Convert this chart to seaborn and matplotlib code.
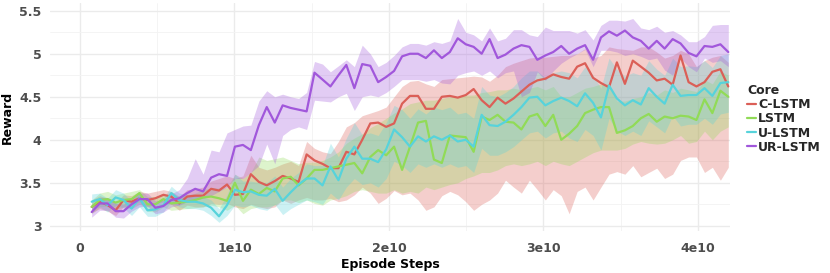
import numpy as np
import pandas as pd
import seaborn as sns
import matplotlib
matplotlib.use('Agg')
import matplotlib.pyplot as plt
from matplotlib.ticker import MultipleLocator, FuncFormatter

# episode steps (units of 1e8)
steps_e8 = [7.6, 12.8, 17.9, 23.1, 28.2, 33.4, 38.5, 43.7, 48.8, 54.0,
            59.1, 64.3, 69.4, 74.6, 79.7, 84.9, 90.0, 95.2, 100.3, 105.5,
            110.6, 115.8, 120.9, 126.1, 131.2, 136.4, 141.5, 146.7, 151.8, 157.0,
            162.1, 167.3, 172.4, 177.6, 182.7, 187.9, 193.0, 198.2, 203.3, 208.5,
            213.6, 218.8, 223.9, 229.1, 234.2, 239.4, 244.5, 249.7, 254.8, 260.0,
            265.1, 270.3, 275.4, 280.6, 285.7, 290.9, 296.0, 301.2, 306.3, 311.5,
            316.6, 321.8, 326.9, 332.1, 337.2, 342.4, 347.5, 352.7, 357.8, 363.0,
            368.1, 373.3, 378.4, 383.6, 388.7, 393.9, 399.0, 404.2, 409.3, 414.5,
            419.6]

cores = ['C-LSTM', 'LSTM', 'U-LSTM', 'UR-LSTM']

c_mean = [3.22, 3.28, 3.24, 3.18, 3.30, 3.28, 3.32, 3.30, 3.32, 3.36,
          3.34, 3.26, 3.34, 3.35, 3.35, 3.43, 3.41, 3.48, 3.36, 3.37,
          3.60, 3.51, 3.47, 3.52, 3.58, 3.55, 3.51, 3.83, 3.76, 3.72,
          3.67, 3.67, 3.86, 3.83, 4.00, 4.19, 4.20, 4.15, 4.19, 4.42,
          4.51, 4.51, 4.36, 4.36, 4.50, 4.51, 4.49, 4.52, 4.59, 4.46,
          4.38, 4.49, 4.42, 4.48, 4.56, 4.64, 4.69, 4.71, 4.76, 4.73,
          4.71, 4.85, 4.89, 4.72, 4.66, 4.61, 4.90, 4.65, 4.92, 4.85,
          4.78, 4.69, 4.71, 4.64, 4.98, 4.67, 4.62, 4.67, 4.79, 4.82,
          4.62]
c_lo = [3.15, 3.20, 3.17, 3.12, 3.22, 3.20, 3.25, 3.22, 3.25, 3.28,
        3.25, 3.18, 3.24, 3.22, 3.22, 3.26, 3.25, 3.26, 3.22, 3.20,
        3.25, 3.22, 3.20, 3.22, 3.30, 3.26, 3.30, 3.33, 3.30, 3.30,
        3.32, 3.28, 3.30, 3.36, 3.45, 3.38, 3.26, 3.32, 3.41, 3.36,
        3.38, 3.30, 3.18, 3.22, 3.35, 3.40, 3.36, 3.28, 3.18, 3.25,
        3.30, 3.38, 3.53, 3.45, 3.38, 3.53, 3.42, 3.30, 3.42, 3.35,
        3.14, 3.40, 3.45, 3.30, 3.45, 3.60, 3.63, 3.60, 3.70, 3.57,
        3.62, 3.67, 3.55, 3.60, 3.76, 3.80, 3.80, 3.62, 3.68, 3.53,
        3.68]
c_hi = [3.30, 3.35, 3.32, 3.27, 3.36, 3.35, 3.40, 3.38, 3.40, 3.42,
        3.40, 3.34, 3.42, 3.43, 3.45, 3.52, 3.55, 3.58, 3.55, 3.58,
        3.82, 3.68, 3.65, 3.68, 3.72, 3.75, 3.70, 3.98, 3.90, 3.86,
        3.84, 3.98, 4.15, 4.20, 4.28, 4.31, 4.34, 4.38, 4.50, 4.62,
        4.68, 4.69, 4.65, 4.62, 4.70, 4.71, 4.72, 4.73, 4.74, 4.73,
        4.68, 4.75, 4.85, 4.89, 4.92, 4.95, 4.96, 4.96, 4.97, 4.98,
        4.98, 5.00, 5.06, 4.95, 4.98, 5.08, 5.06, 5.05, 5.04, 5.08,
        5.08, 5.02, 4.95, 4.98, 5.04, 5.00, 4.85, 4.92, 4.96, 4.98,
        4.90]

l_mean = [3.22, 3.30, 3.31, 3.27, 3.30, 3.31, 3.38, 3.25, 3.25, 3.31,
          3.26, 3.27, 3.28, 3.30, 3.33, 3.34, 3.32, 3.29, 3.50, 3.29,
          3.42, 3.37, 3.44, 3.40, 3.55, 3.57, 3.47, 3.55, 3.65, 3.65,
          3.67, 3.69, 3.71, 3.73, 3.61, 3.80, 3.88, 3.82, 3.92, 3.65,
          3.92, 4.20, 4.22, 3.77, 3.73, 4.05, 4.04, 4.03, 3.86, 4.27,
          4.23, 4.29, 4.21, 4.20, 4.12, 4.27, 4.30, 4.16, 4.29, 4.00,
          4.07, 4.16, 4.31, 4.35, 4.38, 4.38, 4.08, 4.11, 4.16, 4.25,
          4.30, 4.21, 4.27, 4.25, 4.28, 4.27, 4.23, 4.47, 4.31, 4.57,
          4.50]
l_lo = [3.14, 3.22, 3.23, 3.19, 3.22, 3.23, 3.28, 3.17, 3.16, 3.22,
        3.18, 3.19, 3.20, 3.21, 3.22, 3.24, 3.22, 3.18, 3.24, 3.14,
        3.20, 3.22, 3.22, 3.24, 3.30, 3.30, 3.27, 3.30, 3.26, 3.24,
        3.30, 3.32, 3.35, 3.40, 3.42, 3.40, 3.38, 3.38, 3.42, 3.38,
        3.40, 3.38, 3.45, 3.42, 3.45, 3.48, 3.50, 3.55, 3.58, 3.62,
        3.62, 3.65, 3.70, 3.72, 3.70, 3.72, 3.75, 3.70, 3.75, 3.72,
        3.70, 3.75, 3.80, 3.85, 3.88, 3.88, 3.88, 3.90, 3.95, 3.98,
        3.96, 3.95, 3.96, 4.00, 4.05, 3.96, 3.98, 4.10, 4.00, 4.10,
        4.15]
l_hi = [3.30, 3.38, 3.40, 3.36, 3.38, 3.40, 3.42, 3.34, 3.34, 3.38,
        3.34, 3.35, 3.36, 3.38, 3.42, 3.44, 3.44, 3.44, 3.60, 3.55,
        3.62, 3.80, 3.76, 3.78, 3.80, 3.76, 3.72, 3.74, 3.74, 3.76,
        3.80, 3.86, 3.96, 4.02, 4.07, 4.14, 4.19, 4.25, 4.31, 4.36,
        4.42, 4.44, 4.46, 4.46, 4.48, 4.50, 4.50, 4.52, 4.52, 4.55,
        4.56, 4.58, 4.58, 4.60, 4.58, 4.60, 4.62, 4.58, 4.62, 4.50,
        4.50, 4.55, 4.60, 4.62, 4.65, 4.65, 4.45, 4.45, 4.48, 4.50,
        4.55, 4.52, 4.58, 4.55, 4.60, 4.58, 4.56, 4.70, 4.65, 4.80,
        4.75]

u_mean = [3.28, 3.31, 3.24, 3.33, 3.30, 3.20, 3.32, 3.18, 3.19, 3.24,
          3.38, 3.30, 3.28, 3.28, 3.26, 3.21, 3.11, 3.24, 3.42, 3.39,
          3.40, 3.36, 3.35, 3.43, 3.29, 3.39, 3.48, 3.55, 3.55, 3.47,
          3.69, 3.53, 3.78, 3.92, 3.78, 3.78, 3.74, 3.89, 4.12, 4.03,
          3.92, 4.04, 3.98, 4.04, 4.00, 4.05, 3.98, 4.00, 3.92, 4.29,
          4.17, 4.16, 4.21, 4.29, 4.38, 4.49, 4.50, 4.40, 4.45, 4.49,
          4.45, 4.39, 4.54, 4.43, 4.26, 4.63, 4.48, 4.40, 4.46, 4.41,
          4.60, 4.50, 4.42, 4.64, 4.51, 4.52, 4.52, 4.60, 4.51, 4.66,
          4.67]
u_lo = [3.20, 3.22, 3.16, 3.24, 3.21, 3.12, 3.22, 3.11, 3.11, 3.16,
        3.28, 3.22, 3.20, 3.20, 3.18, 3.12, 3.04, 3.12, 3.24, 3.22,
        3.24, 3.20, 3.18, 3.25, 3.13, 3.20, 3.25, 3.30, 3.28, 3.25,
        3.38, 3.30, 3.45, 3.55, 3.48, 3.50, 3.45, 3.55, 3.75, 3.70,
        3.62, 3.72, 3.68, 3.72, 3.68, 3.72, 3.68, 3.70, 3.62, 3.90,
        3.82, 3.82, 3.86, 3.92, 4.00, 4.08, 4.10, 4.02, 4.08, 4.10,
        4.02, 3.98, 4.12, 4.05, 3.88, 4.25, 4.10, 4.05, 4.10, 4.05,
        4.22, 4.15, 4.08, 4.28, 4.16, 4.18, 4.18, 4.25, 4.18, 4.30,
        4.32]
u_hi = [3.37, 3.38, 3.32, 3.42, 3.38, 3.28, 3.40, 3.26, 3.26, 3.32,
        3.46, 3.38, 3.36, 3.36, 3.34, 3.30, 3.20, 3.36, 3.60, 3.52,
        3.52, 3.50, 3.50, 3.58, 3.45, 3.55, 3.62, 3.72, 3.70, 3.70,
        3.96, 3.80, 4.02, 4.20, 4.06, 4.08, 4.05, 4.20, 4.40, 4.35,
        4.25, 4.36, 4.30, 4.38, 4.35, 4.38, 4.30, 4.32, 4.25, 4.62,
        4.52, 4.50, 4.55, 4.62, 4.72, 4.80, 4.80, 4.72, 4.78, 4.80,
        4.78, 4.72, 4.85, 4.75, 4.60, 4.95, 4.82, 4.74, 4.78, 4.75,
        4.92, 4.82, 4.75, 4.95, 4.85, 4.86, 4.85, 4.92, 4.84, 4.98,
        5.00]

ur_mean = [3.16, 3.26, 3.26, 3.17, 3.17, 3.25, 3.31, 3.31, 3.21, 3.23,
           3.30, 3.32, 3.38, 3.43, 3.40, 3.56, 3.60, 3.58, 3.92, 3.94,
           3.88, 4.17, 4.38, 4.20, 4.40, 4.37, 4.35, 4.33, 4.78, 4.70,
           4.62, 4.75, 4.87, 4.60, 4.88, 4.86, 4.67, 4.73, 4.80, 4.97,
           5.00, 5.00, 4.95, 5.04, 4.95, 5.02, 5.18, 5.11, 5.08, 5.00,
           5.17, 4.95, 4.99, 5.06, 5.10, 5.08, 4.93, 4.98, 5.02, 5.09,
           5.00, 5.06, 5.10, 4.93, 5.19, 5.26, 5.21, 5.27, 5.19, 5.15,
           5.06, 5.15, 5.06, 5.17, 5.12, 5.01, 4.97, 5.09, 5.08, 5.11,
           5.02]
ur_lo = [3.10, 3.18, 3.18, 3.10, 3.09, 3.17, 3.22, 3.23, 3.14, 3.16,
         3.22, 3.24, 3.28, 3.30, 3.32, 3.35, 3.40, 3.45, 3.55, 3.55,
         3.62, 3.70, 3.95, 3.72, 4.05, 4.12, 4.15, 4.12, 4.46, 4.45,
         4.44, 4.50, 4.54, 4.34, 4.50, 4.52, 4.50, 4.55, 4.62, 4.70,
         4.70, 4.70, 4.68, 4.70, 4.66, 4.65, 4.75, 4.78, 4.80, 4.75,
         4.80, 4.72, 4.78, 4.80, 4.50, 4.55, 4.79, 4.69, 4.80, 4.89,
         4.95, 5.00, 5.05, 4.85, 5.04, 5.04, 5.02, 4.98, 5.00, 4.97,
         4.93, 4.95, 4.81, 4.75, 4.95, 4.85, 4.79, 4.95, 4.90, 4.92,
         4.85]
ur_hi = [3.24, 3.33, 3.33, 3.26, 3.25, 3.33, 3.38, 3.38, 3.29, 3.30,
         3.37, 3.42, 3.55, 3.78, 3.60, 3.88, 3.86, 4.08, 4.12, 4.16,
         4.17, 4.45, 4.57, 4.50, 4.53, 4.50, 4.48, 4.55, 4.91, 4.88,
         4.79, 4.86, 4.93, 4.85, 5.10, 5.00, 4.85, 4.90, 4.98, 5.08,
         5.12, 5.12, 5.10, 5.14, 5.12, 5.15, 5.41, 5.25, 5.22, 5.15,
         5.30, 5.15, 5.18, 5.28, 5.28, 5.22, 5.20, 5.31, 5.27, 5.27,
         5.27, 5.24, 5.28, 5.16, 5.33, 5.39, 5.39, 5.38, 5.41, 5.30,
         5.28, 5.32, 5.25, 5.27, 5.22, 5.14, 5.14, 5.20, 5.33, 5.34,
         5.34]

means = [c_mean, l_mean, u_mean, ur_mean]
lows = [c_lo, l_lo, u_lo, ur_lo]
highs = [c_hi, l_hi, u_hi, ur_hi]

steps = np.array(steps_e8) * 1e8
frames = []
for core, m, lo, hi in zip(cores, means, lows, highs):
    frames.append(pd.DataFrame({'step': steps, 'reward': m, 'lo': lo, 'hi': hi, 'Core': core}))
df = pd.concat(frames, ignore_index=True)

sns.set_theme(style='whitegrid')
plt.rcParams['font.family'] = ['DejaVu Sans']
plt.rcParams['font.weight'] = 'bold'
plt.rcParams['axes.labelweight'] = 'bold'

palette = dict(zip(cores, sns.color_palette('hls', 4)))

fig = plt.figure(figsize=(8.3, 2.73), dpi=100)
ax = fig.add_axes([0.0602, 0.154, 0.8193, 0.835])

for core in cores:
    sub = df[df['Core'] == core]
    ax.fill_between(sub['step'], sub['lo'], sub['hi'], color=palette[core],
                    alpha=0.3, lw=0, zorder=2)

sns.lineplot(data=df, x='step', y='reward', hue='Core', palette=palette,
             linewidth=1.6, ax=ax, legend=False, zorder=3)

ax.set_xlim(-0.194e10, 4.207e10)
ax.set_ylim(2.94, 5.59)
ax.xaxis.set_major_locator(MultipleLocator(1e10))
ax.xaxis.set_minor_locator(MultipleLocator(0.5e10))
ax.yaxis.set_major_locator(MultipleLocator(0.5))
ax.yaxis.set_minor_locator(MultipleLocator(0.25))
ax.xaxis.set_major_formatter(FuncFormatter(lambda v, p: '0' if abs(v) < 1 else f'{v / 1e10:.0f}e10'))
ax.yaxis.set_major_formatter(FuncFormatter(lambda v, p: f'{v:g}'))

ax.set_facecolor('white')
ax.grid(which='major', color='#ebebeb', linewidth=1.0)
ax.grid(which='minor', color='#f3f3f3', linewidth=0.6)
for s in ax.spines.values():
    s.set_visible(False)
ax.tick_params(axis='both', which='both', length=0, labelsize=9, labelcolor='#4d4d4d')
ax.tick_params(axis='x', pad=8)
ax.tick_params(axis='y', pad=6)

ax.set_xlabel('Episode Steps', fontsize=9, color='black', labelpad=2)
ax.set_ylabel('Reward', fontsize=9, color='black', labelpad=4)

handles = [plt.Line2D([], [], color=palette[c], lw=1.6) for c in cores]
leg = fig.legend(handles, cores, title='Core', loc='center left',
                 bbox_to_anchor=(0.893, 0.565), frameon=False,
                 handlelength=0.7, handletextpad=0.15, labelspacing=0.1,
                 borderpad=0, alignment='left',
                 prop={'weight': 'bold', 'size': 9},
                 title_fontproperties={'weight': 'bold', 'size': 9})

fig.savefig('out.png', dpi=100, facecolor='white')
plt.close(fig)
